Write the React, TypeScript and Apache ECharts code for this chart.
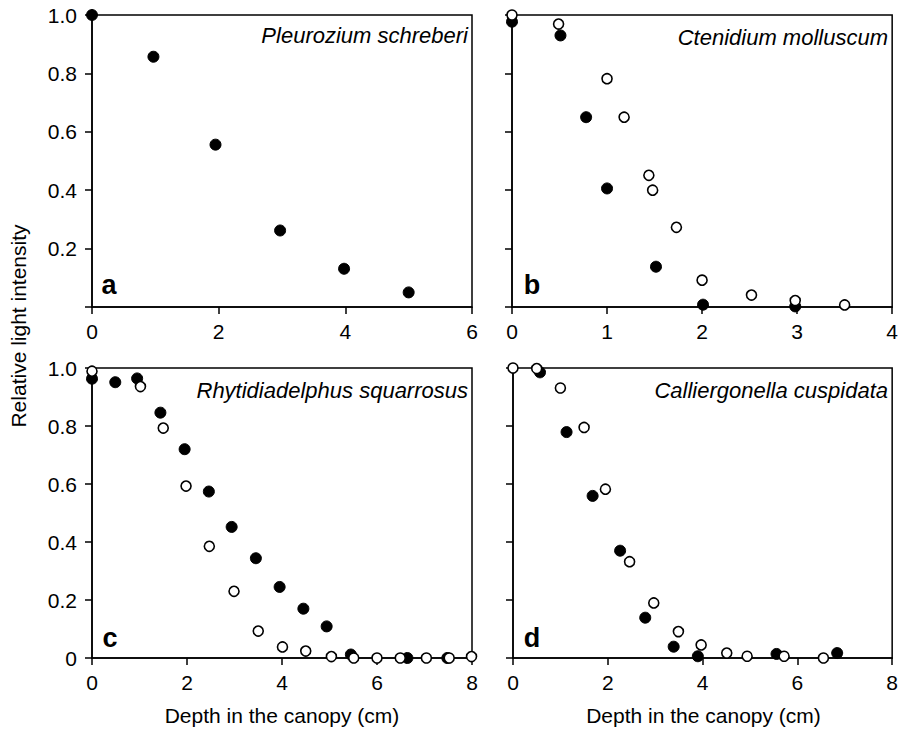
import React, { useEffect, useRef } from "react";
import * as echarts from "echarts";

// Panel a: Pleurozium schreberi (filled only)
const aFilled: [number, number][] = [
  [0, 1.0], [0.97, 0.857], [1.95, 0.556], [2.97, 0.262], [3.98, 0.131], [5.0, 0.05],
];
// Panel b: Ctenidium molluscum
const bFilled: [number, number][] = [
  [0, 0.977], [0.51, 0.93], [0.78, 0.65], [1.0, 0.406], [1.515, 0.138], [2.01, 0.008], [2.98, 0.002],
];
const bOpen: [number, number][] = [
  [0, 1.0], [0.49, 0.969], [1.0, 0.782], [1.18, 0.65], [1.44, 0.451], [1.48, 0.4],
  [1.73, 0.273], [2.0, 0.092], [2.52, 0.041], [2.98, 0.022], [3.5, 0.007],
];
// Panel c: Rhytidiadelphus squarrosus
const cFilled: [number, number][] = [
  [0, 0.963], [0.49, 0.951], [0.95, 0.964], [1.44, 0.846], [1.95, 0.72], [2.46, 0.574],
  [2.94, 0.452], [3.45, 0.344], [3.95, 0.245], [4.45, 0.17], [4.94, 0.109], [5.45, 0.012],
  [6.64, 0.0], [7.48, 0.0],
];
const cOpen: [number, number][] = [
  [0, 0.989], [1.02, 0.936], [1.5, 0.793], [1.98, 0.593], [2.47, 0.385], [2.99, 0.23],
  [3.5, 0.093], [4.01, 0.038], [4.5, 0.024], [5.04, 0.005], [5.51, 0.0], [6.0, 0.0],
  [6.49, 0.0], [7.04, 0.0], [7.52, 0.0], [7.99, 0.005],
];
// Panel d: Calliergonella cuspidata
const dFilled: [number, number][] = [
  [0.57, 0.985], [1.13, 0.779], [1.68, 0.559], [2.26, 0.37], [2.79, 0.139], [3.39, 0.039],
  [3.9, 0.006], [5.56, 0.014], [6.84, 0.017],
];
const dOpen: [number, number][] = [
  [0, 1.0], [0.5, 0.998], [1.0, 0.931], [1.5, 0.795], [1.95, 0.582], [2.46, 0.332],
  [2.97, 0.19], [3.49, 0.091], [3.97, 0.045], [4.51, 0.017], [4.94, 0.006], [5.72, 0.006],
  [6.55, 0.0],
];

const species = ["Pleurozium schreberi", "Ctenidium molluscum", "Rhytidiadelphus squarrosus", "Calliergonella cuspidata"];
const letters = ["a", "b", "c", "d"];
const xMax = [6, 4, 8, 8];
const xInterval = [2, 1, 2, 2];
const yTicks = [0, 0.2, 0.4, 0.6, 0.8, 1.0];
const xTitle = "Depth in the canopy (cm)";
const yTitle = "Relative light intensity";

const FONT = "'Liberation Sans', Arial, sans-serif";

export default function App() {
  const ref = useRef<HTMLDivElement>(null);
  useEffect(() => {
    document.body.style.margin = "0";
    if (!ref.current) return;
    const chart = echarts.init(ref.current, null, { renderer: "svg" });
    const boxes = [
      { left: 92, top: 15, width: 380, height: 292 },
      { left: 512, top: 15, width: 381, height: 292 },
      { left: 92, top: 368, width: 380, height: 290 },
      { left: 513, top: 368, width: 381, height: 290 },
    ];
    const grids = boxes.map((g) => ({ ...g, show: true, borderColor: "#000", borderWidth: 1.5, backgroundColor: "transparent" }));

    const xAxes = [0, 1, 2, 3].map((i) => ({
      type: "value",
      gridIndex: i,
      min: 0,
      max: xMax[i],
      interval: xInterval[i],
      axisLine: { show: true, onZero: false, lineStyle: { color: "#000", width: 1.5 } },
      axisTick: { show: true, inside: false, length: 7, lineStyle: { color: "#000", width: 1.5 } },
      axisLabel: { color: "#000", fontSize: 21, fontFamily: FONT, margin: 14 },
      splitLine: { show: false },
    }));

    const yAxes = [0, 1, 2, 3].map((i) => ({
      type: "value",
      gridIndex: i,
      min: 0,
      max: 1,
      interval: 0.2,
      axisLine: { show: true, onZero: false, lineStyle: { color: "#000", width: 1.5 } },
      axisTick: { show: true, inside: false, length: 7, lineStyle: { color: "#000", width: 1.5 } },
      axisLabel: {
        show: i === 0 || i === 2,
        color: "#000",
        fontSize: 21,
        fontFamily: FONT,
        margin: 15,
        formatter: (v: number) => {
          const t = yTicks.find((y) => Math.abs(y - v) < 1e-6);
          if (t === undefined) return "";
          if (t === 0) return i === 0 ? "" : "0";
          return t.toFixed(1);
        },
      },
      splitLine: { show: false },
    }));

    const filledStyle = { color: "#000", borderColor: "#000", borderWidth: 1, opacity: 1 };
    const openStyle = { color: "#fff", borderColor: "#000", borderWidth: 1.6, opacity: 1 };
    const mk = (data: [number, number][], i: number, open: boolean) => ({
      type: "scatter",
      xAxisIndex: i,
      yAxisIndex: i,
      data,
      symbol: "circle",
      symbolSize: open ? 10 : 11,
      itemStyle: open ? openStyle : filledStyle,
      clip: false,
      z: open ? 3 : 2,
    });

    const labelPos = [
      { lx: 109, ly: 285, sx: 468, sy: 35 },
      { lx: 532, ly: 285, sx: 888, sy: 37 },
      { lx: 110, ly: 638, sx: 468, sy: 390 },
      { lx: 532, ly: 638, sx: 888, sy: 390 },
    ];
    const graphics: any[] = [];
    labelPos.forEach((p, i) => {
      graphics.push({
        type: "text",
        x: p.sx,
        y: p.sy,
        style: { text: species[i], fill: "#000", font: `italic 22px ${FONT}`, textAlign: "right", textVerticalAlign: "middle" },
      });
      graphics.push({
        type: "text",
        x: p.lx,
        y: p.ly,
        style: { text: letters[i], fill: "#000", font: `bold 27px ${FONT}`, textAlign: "center", textVerticalAlign: "middle" },
      });
    });
    [2, 3].forEach((i) => {
      const b = boxes[i];
      graphics.push({
        type: "text",
        x: b.left + b.width / 2,
        y: 715,
        style: { text: xTitle, fill: "#000", font: `21px ${FONT}`, textAlign: "center", textVerticalAlign: "middle" },
      });
    });
    graphics.push({
      type: "text",
      x: 18,
      y: 326,
      rotation: Math.PI / 2,
      style: { text: yTitle, fill: "#000", font: `21px ${FONT}`, textAlign: "center", textVerticalAlign: "middle" },
    });

    chart.setOption({
      animation: false,
      backgroundColor: "#fff",
      grid: grids,
      xAxis: xAxes,
      yAxis: yAxes,
      graphic: graphics,
      series: [
        mk(aFilled, 0, false),
        mk(bFilled, 1, false),
        mk(bOpen, 1, true),
        mk(cFilled, 2, false),
        mk(cOpen, 2, true),
        mk(dFilled, 3, false),
        mk(dOpen, 3, true),
      ],
    });
    return () => chart.dispose();
  }, []);
  return <div ref={ref} style={{ width: 901, height: 730 }} />;
}
